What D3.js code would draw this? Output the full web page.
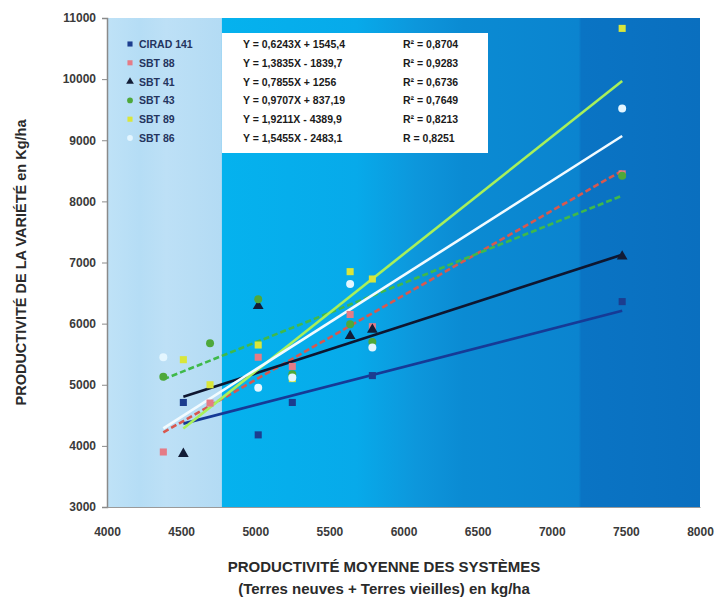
<!DOCTYPE html>
<html>
<head>
<meta charset="utf-8">
<script src="https://cdn.jsdelivr.net/npm/d3@7"></script>
<style>
  html, body { margin: 0; padding: 0; background: #ffffff; }
  svg { display: block; font-family: "Liberation Sans", Arial, sans-serif; }
</style>
</head>
<body>
<svg id="chart" width="726" height="600"></svg>
<script>
// Mean system productivity (x) for each site, kg/ha
const systemYield = [4380, 4515, 4695, 5020, 5250, 5640, 5790, 7475];

// Variety names
const varieties = ["CIRAD 141", "SBT 88", "SBT 41", "SBT 43", "SBT 89", "SBT 86"];

// Variety productivity per site (null = not measured)
const cirad141 = [null, 4710, null, 4180, 4710, null, 5150, 6360];
const sbt88    = [3900, null, 4700, 5450, 5300, 6150, 5950, 8450];
const sbt41    = [null, 3870, null, 6290, null, 5800, 5900, 7100];
const sbt43    = [5130, null, 5680, 6400, 5170, 5990, 5700, 8420];
const sbt89    = [null, 5410, 5000, 5650, 5100, 6850, 6730, 10830];
const sbt86    = [5450, null, null, 4950, 5120, 6650, 5610, 9520];

// Linear trend coefficients (slope, intercept) and fit quality
const slopes     = [0.6243, 1.3835, 0.7855, 0.9707, 1.9211, 1.5455];
const intercepts = [1545.4, -1839.7, 1256, 837.19, -4389.9, -2483.1];
const equationLabels = [
  "Y = 0,6243X + 1545,4",
  "Y = 1,3835X - 1839,7",
  "Y = 0,7855X + 1256",
  "Y = 0,9707X + 837,19",
  "Y = 1,9211X - 4389,9",
  "Y = 1,5455X - 2483,1"
];
const r2Labels = ["R² = 0,8704", "R² = 0,9283", "R² = 0,6736", "R² = 0,7649", "R² = 0,8213", "R  = 0,8251"];

// Axis ticks
const xTicks = [4000, 4500, 5000, 5500, 6000, 6500, 7000, 7500, 8000];
const yTicks = [3000, 4000, 5000, 6000, 7000, 8000, 9000, 10000, 11000];

const seriesValues = [cirad141, sbt88, sbt41, sbt43, sbt89, sbt86];
const markerColors = ["#1c3d8f", "#e57b86", "#121c36", "#4ea83a", "#d9e63a", "#e4f6ff"];
const lineColors   = ["#163a96", "#d8584e", "#0e1630", "#3fb94a", "#a8f05a", "#f2fbff"];
const dashes       = [null, "6,3", null, "6,3", null, null];
const shapes = [d3.symbolSquare, d3.symbolSquare, d3.symbolTriangle, d3.symbolCircle, d3.symbolSquare, d3.symbolCircle];

const svg = d3.select("#chart");
const x = d3.scaleLinear().domain([4000, 8000]).range([107, 700]);
const y = d3.scaleLinear().domain([3000, 11000]).range([507, 18]);

// Plot background bands
const defs = svg.append("defs");
const grad = defs.append("linearGradient").attr("id", "bgGrad")
  .attr("x1", "0").attr("x2", "1").attr("y1", "0").attr("y2", "0");
[
  [0.000, "#bfe2f7"], [0.055, "#b5ddf5"], [0.10, "#bde0f6"], [0.193, "#b3dbf4"],
  [0.194, "#05b2ee"], [0.42, "#07aaea"], [0.52, "#0d97dc"], [0.60, "#0b8bd3"],
  [0.795, "#0b84cf"], [0.80, "#0a74c4"], [1.0, "#0a6fbf"]
].forEach(([o, c]) => grad.append("stop").attr("offset", o).attr("stop-color", c));

svg.append("rect")
  .attr("x", x(4000)).attr("y", y(11000))
  .attr("width", x(8000) - x(4000)).attr("height", y(3000) - y(11000))
  .attr("fill", "url(#bgGrad)");

// Axes
const yAxis = d3.axisLeft(y).tickValues(yTicks).tickSize(5).tickPadding(6).tickFormat(d3.format("d"));
const gy = svg.append("g").attr("transform", `translate(${x(4000)},0)`).call(yAxis);
gy.select(".domain").attr("stroke", "#8a8a8a").attr("stroke-width", 1.5);
gy.selectAll(".tick line").attr("stroke", "#8a8a8a");
gy.selectAll("text").attr("font-size", 12).attr("font-weight", "bold").attr("fill", "#3a3a3a");

const xAxis = d3.axisBottom(x).tickValues(xTicks).tickSize(0).tickPadding(20).tickFormat(d3.format("d"));
const gx = svg.append("g").attr("transform", `translate(0,${y(3000)})`).call(xAxis);
gx.select(".domain").attr("stroke", "#9a9a9a").attr("stroke-width", 1);
gx.selectAll("text").attr("font-size", 12).attr("font-weight", "bold").attr("fill", "#3a3a3a");

// Trend lines over each variety's measured range
seriesValues.forEach((vals, i) => {
  const xs = systemYield.filter((_, j) => vals[j] != null);
  const x0 = d3.min(xs), x1 = d3.max(xs);
  svg.append("line")
    .attr("x1", x(x0)).attr("y1", y(slopes[i] * x0 + intercepts[i]))
    .attr("x2", x(x1)).attr("y2", y(slopes[i] * x1 + intercepts[i]))
    .attr("stroke", lineColors[i]).attr("stroke-width", 2.6)
    .attr("stroke-dasharray", dashes[i]);
});

// Data points
seriesValues.forEach((vals, i) => {
  const pts = systemYield.map((sx, j) => ({ sx, v: vals[j] })).filter(d => d.v != null);
  svg.append("g").selectAll("path").data(pts).join("path")
    .attr("transform", d => `translate(${x(d.sx)},${y(d.v)})`)
    .attr("d", d3.symbol().type(shapes[i]).size(50))
    .attr("fill", markerColors[i]);
});

// Legend
const legend = svg.append("g");
varieties.forEach((name, i) => {
  const ly = 44 + i * 18.8;
  legend.append("path")
    .attr("transform", `translate(130,${ly})`)
    .attr("d", d3.symbol().type(shapes[i]).size(26))
    .attr("fill", markerColors[i]);
  legend.append("text").attr("x", 139).attr("y", ly + 4)
    .attr("font-size", 10.5).attr("font-weight", "bold").attr("fill", "#24345e")
    .text(name);
});

// Equation box
svg.append("rect").attr("x", 222).attr("y", 33).attr("width", 266).attr("height", 120)
  .attr("fill", "#ffffff");
equationLabels.forEach((eq, i) => {
  const ly = 44 + i * 18.8 + 4;
  svg.append("text").attr("x", 243).attr("y", ly)
    .attr("font-size", 10.5).attr("font-weight", "bold").attr("fill", "#1a1a1a").text(eq);
  svg.append("text").attr("x", 403).attr("y", ly)
    .attr("font-size", 10.5).attr("font-weight", "bold").attr("fill", "#1a1a1a").text(r2Labels[i]);
});

// Axis titles
svg.append("text")
  .attr("transform", `translate(26,${(y(3000) + y(11000)) / 2}) rotate(-90)`)
  .attr("text-anchor", "middle").attr("font-size", 14.5).attr("font-weight", "bold").attr("fill", "#2a2a2a")
  .text("PRODUCTIVITÉ DE LA VARIÉTÉ en Kg/ha");
svg.append("text").attr("x", 384).attr("y", 572)
  .attr("text-anchor", "middle").attr("font-size", 15).attr("font-weight", "bold").attr("fill", "#2a2a2a")
  .text("PRODUCTIVITÉ MOYENNE DES SYSTÈMES");
svg.append("text").attr("x", 384).attr("y", 594)
  .attr("text-anchor", "middle").attr("font-size", 15).attr("font-weight", "bold").attr("fill", "#2a2a2a")
  .text("(Terres neuves + Terres vieilles) en kg/ha");
</script>
</body>
</html>
